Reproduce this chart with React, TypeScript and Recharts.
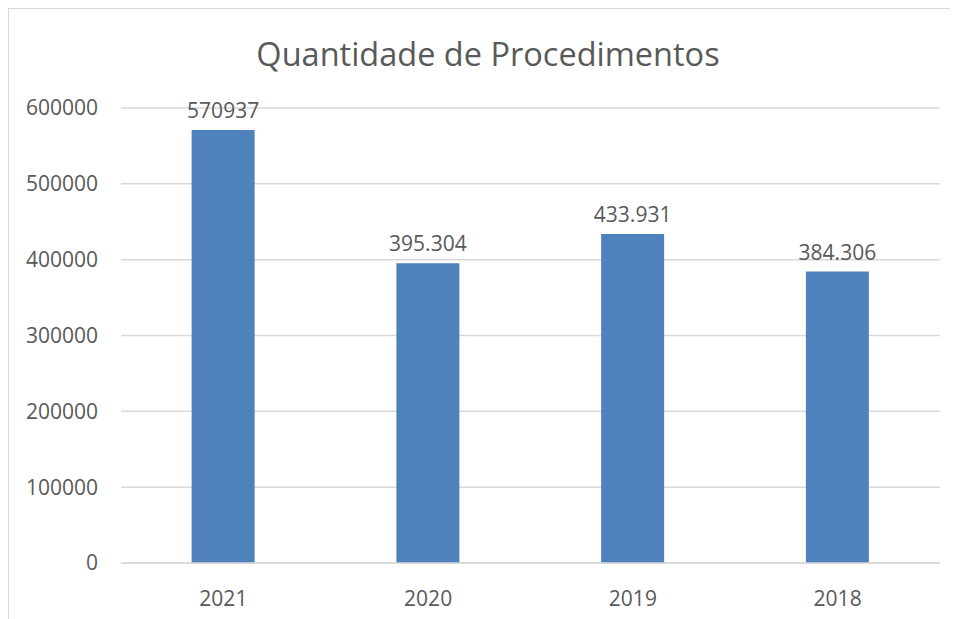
import React from 'react';
import { BarChart, Bar, XAxis, YAxis, CartesianGrid, LabelList } from 'recharts';

const years = ['2021', '2020', '2019', '2018'];
const procedures = [570937, 395304, 433931, 384306];
const valueLabels = ['570937', '395.304', '433.931', '384.306'];
const yTicks = [0, 100000, 200000, 300000, 400000, 500000, 600000];

const data = years.map((year, i) => ({
  year,
  value: procedures[i],
  label: valueLabels[i],
}));

const FONT = '"Open Sans", sans-serif';
const TEXT = '#595959';

const App: React.FC = () => {
  return (
    <div
      style={{
        position: 'relative',
        width: 950,
        height: 611,
        borderLeft: '1px solid #d9d9d9',
        borderTop: '1px solid #d9d9d9',
        boxSizing: 'border-box',
        fontFamily: FONT,
        background: '#fff',
      }}
    >
      <div
        style={{
          position: 'absolute',
          top: 22,
          left: 0,
          width: 958,
          textAlign: 'center',
          fontSize: 32.5,
          color: TEXT,
        }}
      >
        Quantidade de Procedimentos
      </div>
      <div style={{ position: 'absolute', left: -1, top: -1 }}>
        <BarChart
          width={950}
          height={611}
          data={data}
          margin={{ top: 100, right: 18, left: 0, bottom: 16 }}
          barCategoryGap="34.5%"
        >
          <CartesianGrid vertical={false} stroke="#d9d9d9" strokeWidth={1.5} />
          <XAxis
            dataKey="year"
            height={40}
            axisLine={{ stroke: '#d9d9d9', strokeWidth: 1.5 }}
            tickLine={false}
            tickMargin={22}
            tick={{ fill: TEXT, fontSize: 21, fontFamily: FONT }}
          />
          <YAxis
            width={113}
            domain={[0, 600000]}
            ticks={yTicks}
            axisLine={false}
            tickLine={false}
            tickMargin={17}
            tick={{ fill: TEXT, fontSize: 21, fontFamily: FONT }}
          />
          <Bar dataKey="value" fill="#4f81bd" isAnimationActive={false}>
            <LabelList
              dataKey="label"
              position="top"
              offset={12}
              style={{ fill: TEXT, fontSize: 21, fontFamily: FONT }}
            />
          </Bar>
        </BarChart>
      </div>
    </div>
  );
};

export default App;
